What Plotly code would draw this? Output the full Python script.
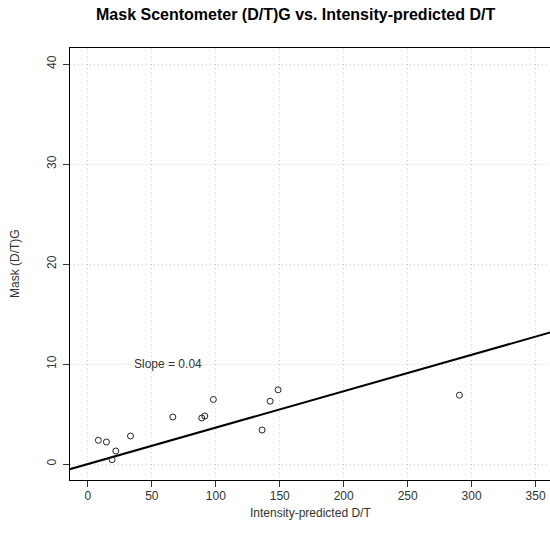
import numpy as np
import plotly.graph_objects as go

# Intensity-predicted D/T versus Mask scentometer (D/T)G
intensity_dt = [8.2, 14.5, 18.9, 21.8, 33.3, 66.4, 89.0, 91.4, 98.1, 136.2, 142.5, 148.7, 290.5]
mask_dtg = [2.37, 2.2, 0.43, 1.30, 2.8, 4.7, 4.6, 4.8, 6.45, 3.4, 6.28, 7.42, 6.88]

# fitted line through the origin
slope = 0.0364
intercept = 0.0

x_ticks = [0, 50, 100, 150, 200, 250, 300, 350]
y_ticks = [0, 10, 20, 30, 40]
x_range = [-14, 361.3]
y_range = [-1.6, 41.6]

font_family = "Liberation Sans, Arial, Helvetica, sans-serif"
ink = "#222222"

fig = go.Figure()

line_x = np.array([x_range[0] - 5, x_range[1] + 5])
fig.add_trace(go.Scatter(
    x=line_x, y=intercept + slope * line_x,
    mode="lines", line=dict(color="black", width=2),
    hoverinfo="skip", showlegend=False,
))

fig.add_trace(go.Scatter(
    x=intensity_dt, y=mask_dtg, mode="markers",
    marker=dict(symbol="circle-open", size=6, color=ink, line=dict(width=1, color=ink)),
    showlegend=False,
))

axis_common = dict(
    showline=True, linecolor="black", linewidth=1,
    ticks="outside", ticklen=6, tickcolor="#333333", tickwidth=1,
    showgrid=True, gridcolor="#d0d0d0", gridwidth=1, griddash="1px,3px",
    zeroline=False,
    tickfont=dict(family=font_family, size=12, color="#333333"),
)

fig.update_xaxes(
    range=x_range, tickvals=x_ticks, mirror=True,
    ticklabelstandoff=-1, **axis_common,
)
fig.update_yaxes(
    range=y_range, tickvals=y_ticks, tickangle=-90,
    ticklabelstandoff=2, **axis_common,
)

annotations = [
    dict(text="<b>Mask Scentometer (D/T)G vs. Intensity-predicted D/T</b>",
         xref="paper", yref="paper", x=0.469, y=1, xanchor="center", yanchor="middle",
         yshift=34, showarrow=False,
         font=dict(family=font_family, size=16, color="black")),
    dict(text="Intensity-predicted D/T",
         xref="paper", yref="paper", x=0.5, y=0, xanchor="center", yanchor="middle",
         yshift=-33, showarrow=False,
         font=dict(family=font_family, size=12, color="#333333")),
    dict(text="Mask (D/T)G",
         xref="paper", yref="paper", x=0, y=0.5, xanchor="center", yanchor="middle",
         xshift=-55, textangle=-90, showarrow=False,
         font=dict(family=font_family, size=12, color="#333333")),
    dict(text=f"Slope = {slope:.2f}",
         xref="x", yref="y", x=63, y=10, xanchor="center", yanchor="middle",
         showarrow=False,
         font=dict(family=font_family, size=12, color="#333333")),
]

fig.update_layout(
    width=550, height=552,
    margin=dict(l=70, r=0, t=48, b=72),
    paper_bgcolor="white", plot_bgcolor="white",
    annotations=annotations,
    showlegend=False,
)

fig.write_html("out.html")
